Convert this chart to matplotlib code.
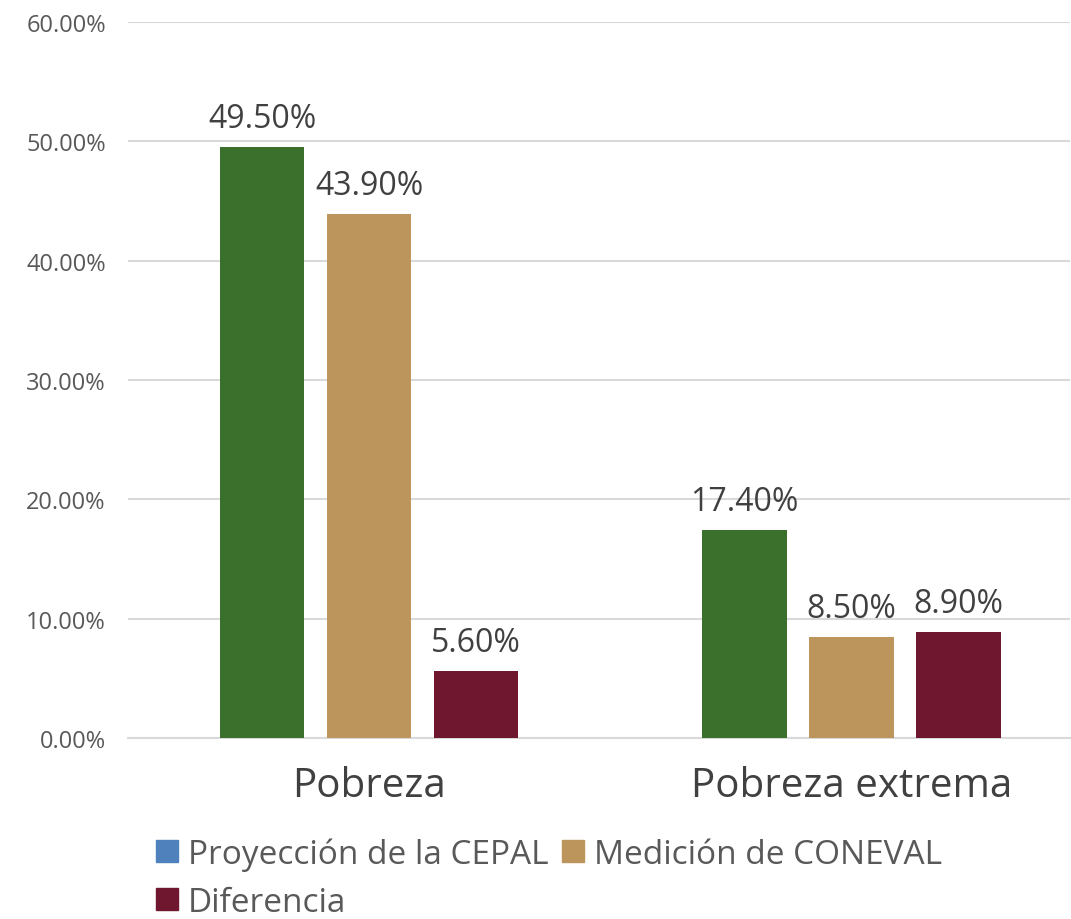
import matplotlib.pyplot as plt
import numpy as np
from matplotlib.patches import Patch

plt.rcParams['font.family'] = ['Open Sans', 'DejaVu Sans']

# datos
categorias = ['Pobreza', 'Pobreza extrema']
series = ['Proyección de la CEPAL', 'Medición de CONEVAL', 'Diferencia']
cepal = [49.5, 17.4]
coneval = [43.9, 8.5]
diferencia = [5.6, 8.9]
yticks = [0, 10, 20, 30, 40, 50, 60]

colores_barras = ['#3a6f2c', '#bc955c', '#6f172f']
colores_leyenda = ['#4f81bd', '#bc955c', '#6f172f']

fig = plt.figure(figsize=(10.71, 9.2), dpi=100)
ax = fig.add_axes([128 / 1071, 1 - 739 / 920, (1070 - 128) / 1071, (739 - 23) / 920])

x = np.arange(len(categorias))
ancho = 0.176
paso = 0.222
for i, (vals, col) in enumerate(zip([cepal, coneval, diferencia], colores_barras)):
    pos = x + (i - 1) * paso
    barras = ax.bar(pos, vals, ancho, color=col, zorder=3)
    for b, v in zip(barras, vals):
        ax.text(b.get_x() + b.get_width() / 2, v + 1.0, f'{v:.2f}%',
                ha='center', va='bottom', fontsize=23, color='#404040')

ax.set_xlim(-0.5, 1.454)
ax.set_ylim(0, 60)
ax.set_yticks(yticks)
ax.set_yticklabels([f'{t:.2f}%' for t in yticks], fontsize=17, color='#595959')
ax.set_xticks(x)
ax.set_xticklabels(categorias, fontsize=29, color='#404040')
ax.tick_params(axis='both', length=0)
ax.tick_params(axis='x', pad=20)
ax.tick_params(axis='y', pad=16)
ax.grid(axis='y', color='#d9d9d9', linewidth=1.5, zorder=0)
for s in ['top', 'right', 'left']:
    ax.spines[s].set_visible(False)
ax.spines['bottom'].set_color('#d9d9d9')
ax.spines['bottom'].set_linewidth(1.5)

# leyenda (orden para que "Diferencia" quede en la segunda fila)
handles = [Patch(color=c) for c in colores_leyenda]
orden = [0, 2, 1]
fig.legend([handles[i] for i in orden], [series[i] for i in orden],
           loc='upper left', bbox_to_anchor=(143 / 1071, 1 - 825 / 920),
           ncol=2, frameon=False, fontsize=24, labelcolor='#595959',
           handlelength=0.65, handleheight=0.65, handletextpad=0.3,
           columnspacing=0.4, labelspacing=0.45, borderaxespad=0)

fig.savefig('out.png', dpi=100)
plt.close()
